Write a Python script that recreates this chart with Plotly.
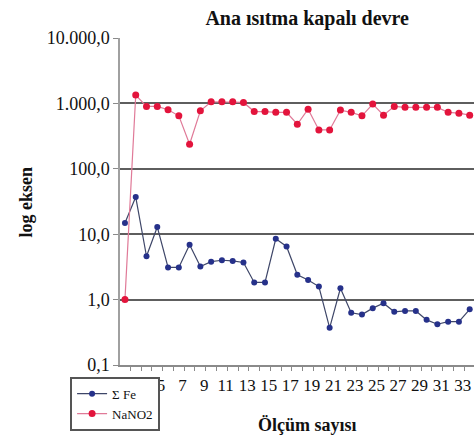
import plotly.graph_objects as go

olcum = list(range(1, 34))
fe = [14.8, 37, 4.6, 12.9, 3.1, 3.1, 6.9, 3.2, 3.8, 4.0, 3.9, 3.7, 1.83, 1.83, 8.5, 6.5,
      2.4, 2.0, 1.58, 0.37, 1.49, 0.63, 0.59, 0.74, 0.88, 0.65, 0.67, 0.67, 0.49, 0.42,
      0.46, 0.46, 0.71]
nano2 = [1.0, 1340, 900, 900, 800, 645, 237, 770, 1060, 1060, 1060, 1035, 750, 750, 730, 730,
         480, 817, 393, 393, 790, 730, 645, 975, 660, 900, 870, 870, 870, 870, 730, 710, 660]

x_tickvals = list(range(5, 34, 2))
x_ticktext = [str(v) for v in x_tickvals]
y_tickvals = [0.1, 1, 10, 100, 1000, 10000]
y_ticktext = ["0,1", "1,0", "10,0", "100,0", "1.000,0", "10.000,0"]

SERIF = "Liberation Serif, Times New Roman, Times, serif"

fig = go.Figure()
fig.add_trace(go.Scatter(
    x=olcum, y=fe, name="Σ Fe", mode="lines+markers",
    line=dict(color="#3e4668", width=1.2),
    marker=dict(color="#26318a", size=6, symbol="circle"),
))
fig.add_trace(go.Scatter(
    x=olcum, y=nano2, name="NaNO2", mode="lines+markers",
    line=dict(color="#e07a98", width=1.2),
    marker=dict(color="#e3143c", size=7, symbol="circle"),
))

fig.update_layout(
    width=474, height=437,
    margin=dict(l=120, r=0, t=38, b=72),
    paper_bgcolor="white", plot_bgcolor="white",
    font=dict(family=SERIF, color="#111111"),
    title=dict(text="<b>Ana ısıtma kapalı devre</b>", font=dict(size=20, family=SERIF, color="#111"),
               x=0.648, xref="container", xanchor="center",
               y=1 - 18 / 437, yref="container", yanchor="middle"),
    showlegend=True,
    legend=dict(x=-0.141, y=-0.036, xanchor="left", yanchor="top",
                bgcolor="white", bordercolor="#555555", borderwidth=2,
                font=dict(size=13, family=SERIF, color="#111"),
                tracegroupgap=0, itemwidth=30),
    annotations=[
        dict(text="<b>log eksen</b>", textangle=-90, xref="paper", yref="paper",
             x=(25 - 120) / 354, y=0.5, xanchor="center", yanchor="middle",
             showarrow=False, font=dict(size=18, family=SERIF, color="#111")),
        dict(text="<b>Ölçüm sayısı</b>", xref="paper", yref="paper",
             x=(307 - 120) / 354, y=-(60 / 327), xanchor="center", yanchor="middle",
             showarrow=False, font=dict(size=18, family=SERIF, color="#111")),
    ],
)

fig.update_xaxes(
    range=[0.54, 33.4], tickmode="array", tickvals=x_tickvals, ticktext=x_ticktext,
    ticks="", showgrid=False, zeroline=False,
    showline=True, linecolor="#8a8a8a", linewidth=2,
    tickfont=dict(size=17, family=SERIF, color="#111"),
    ticklabelshift=-7, ticklabelstandoff=4,
    minor=dict(tickmode="array", tickvals=[v + 0.5 for v in range(0, 34)],
               ticks="outside", ticklen=4, tickcolor="#8a8a8a", tickwidth=1, showgrid=False),
)
fig.update_yaxes(
    type="log", range=[-1, 4], tickmode="array", tickvals=y_tickvals, ticktext=y_ticktext,
    ticks="outside", ticklen=5, tickcolor="#8a8a8a",
    showgrid=True, gridcolor="#5e5e5e", gridwidth=2,
    showline=True, linecolor="#a0a0a0", linewidth=1.5, zeroline=False,
    tickfont=dict(size=18, family=SERIF, color="#111"),
)

fig.write_html("out.html")
